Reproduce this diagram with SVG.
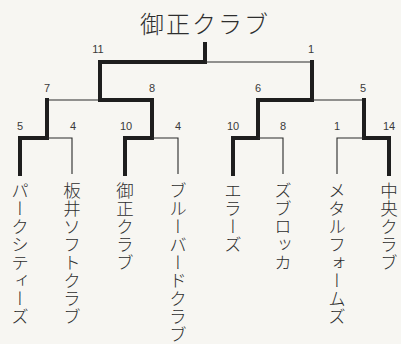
<svg xmlns="http://www.w3.org/2000/svg" width="401" height="344" viewBox="0 0 401 344">
<style>
.bg{fill:#f7f6f2}
.thick{stroke:#1e1e1e;stroke-width:4;fill:none;stroke-linejoin:miter;stroke-linecap:square}
.thin{stroke:#2a2a2a;stroke-width:1.1;fill:none}
.num{font-family:"Liberation Sans","DejaVu Sans",sans-serif;font-size:11px;fill:#3a3a3a;text-anchor:middle}
.title{font-family:"Noto Sans CJK JP",sans-serif;font-weight:300;font-size:24px;fill:#2e2e2e;text-anchor:middle;letter-spacing:2px}
.team{font-family:"Noto Sans CJK JP",sans-serif;font-weight:300;font-size:17.5px;fill:#2e2e2e;writing-mode:vertical-rl;letter-spacing:0.5px}
</style>
<rect class="bg" x="0" y="0" width="401" height="344"/>
<g id="title"><text class="title" x="205" y="33">御正クラブ</text></g>
<g id="connectors">
  <!-- final -->
  <path class="thick" d="M205,44 V62 H100 V100"/>
  <path class="thin" d="M205,62 H312"/>
  <path class="thick" d="M312,62 V100"/>
  <!-- left semifinal -->
  <path class="thin" d="M47,100 H100"/>
  <path class="thick" d="M100,100 H152 V138"/>
  <path class="thick" d="M47,100 V138 H20 V174"/>
  <path class="thin" d="M47,138 H72 V174"/>
  <path class="thick" d="M152,138 H125 V174"/>
  <path class="thin" d="M152,138 H178 V174"/>
  <!-- right semifinal -->
  <path class="thick" d="M312,100 H258 V138 H233 V174"/>
  <path class="thin" d="M312,100 H364"/>
  <path class="thin" d="M258,138 H283 V174"/>
  <path class="thick" d="M364,100 V138 H389 V174"/>
  <path class="thin" d="M364,138 H337 V174"/>
</g>
<g id="scores">
  <text class="num" x="98" y="53">11</text>
  <text class="num" x="311" y="53">1</text>
  <text class="num" x="47" y="92">7</text>
  <text class="num" x="152" y="92">8</text>
  <text class="num" x="258" y="92">6</text>
  <text class="num" x="363" y="92">5</text>
  <text class="num" x="20" y="130">5</text>
  <text class="num" x="73" y="130">4</text>
  <text class="num" x="126" y="130">10</text>
  <text class="num" x="178" y="130">4</text>
  <text class="num" x="233" y="130">10</text>
  <text class="num" x="283" y="130">8</text>
  <text class="num" x="337" y="130">1</text>
  <text class="num" x="389" y="130">14</text>
</g>
<g id="team-parkcities"><text class="team" x="20" y="182">パークシティーズ</text></g>
<g id="team-itai"><text class="team" x="72" y="182">板井ソフトクラブ</text></g>
<g id="team-misho"><text class="team" x="125" y="182">御正クラブ</text></g>
<g id="team-bluebird"><text class="team" x="178" y="182">ブルーバードクラブ</text></g>
<g id="team-errors"><text class="team" x="233" y="182">エラーズ</text></g>
<g id="team-zubrowka"><text class="team" x="283" y="182">ズブロッカ</text></g>
<g id="team-metalforms"><text class="team" x="337" y="182">メタルフォームズ</text></g>
<g id="team-chuo"><text class="team" x="389" y="182">中央クラブ</text></g>
</svg>
